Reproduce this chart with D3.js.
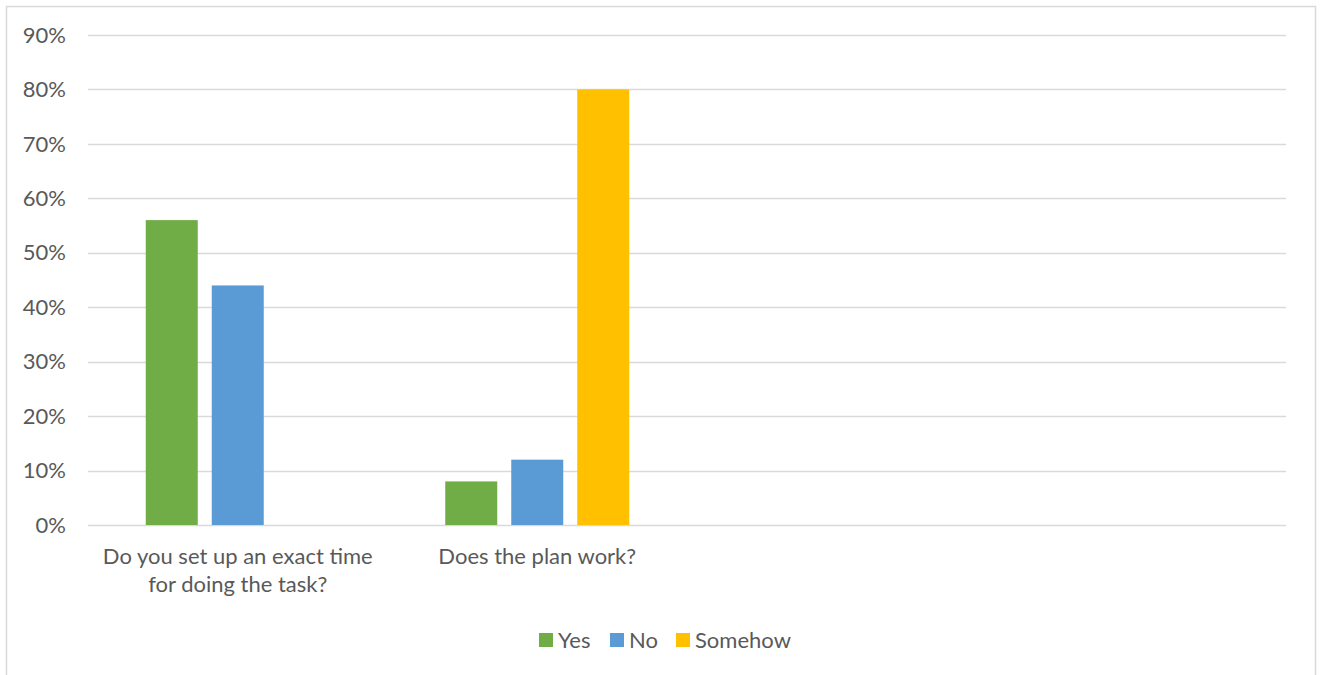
<!DOCTYPE html>
<html><head><meta charset="utf-8">
<script src="https://cdn.jsdelivr.net/npm/d3@7"></script>
<style>body{margin:0;background:#fff}svg{display:block}text{font-family:Lato,"Open Sans",sans-serif;fill:#595959}</style>
</head><body><svg id="c" width="1320" height="675"></svg>
<script>
const categories = [["Do you set up an exact time","for doing the task?"],["Does the plan work?"],[""],[""]];
const seriesNames = ["Yes","No","Somehow"];
const seriesColors = ["#70ad47","#5b9bd5","#ffc000"];
const yesValues = [0.56,0.08,null,null];
const noValues = [0.44,0.12,null,null];
const somehowValues = [0,0.80,null,null];
const yTicks = [0,0.1,0.2,0.3,0.4,0.5,0.6,0.7,0.8,0.9];
const seriesValues = [yesValues,noValues,somehowValues];

(function(){
const FS = 22;
const svg = d3.select("#c");
svg.append("rect").attr("x",6.5).attr("y",6.5).attr("width",1309).attr("height",700)
  .attr("fill","#fff").attr("stroke","#d9d9d9").attr("stroke-width",1.5);

const pL=88,pR=1286,pT=35,pB=525;
const x = d3.scaleBand().domain(d3.range(categories.length)).range([pL,pR]);
const y = d3.scaleLinear().domain([0,0.9]).range([pB,pT]);
const barW = 52, gap = 14;
const groupW = 3*barW+2*gap;
const inner = d3.scaleBand().domain(d3.range(seriesNames.length)).range([0, groupW]).paddingInner(gap/(barW+gap));

svg.append("g").selectAll("line").data(yTicks).join("line")
  .attr("x1",pL).attr("x2",pR).attr("y1",d=>Math.round(y(d))+0.5).attr("y2",d=>Math.round(y(d))+0.5)
  .attr("stroke","#d9d9d9").attr("stroke-width",1.5);

svg.append("g").selectAll("text").data(yTicks).join("text")
  .attr("x",66).attr("y",d=>y(d)).attr("dy","0.35em").attr("text-anchor","end")
  .attr("font-size",FS).text(d=>d3.format(".0%")(d));

seriesValues.forEach((vals,si)=>{
  svg.append("g").selectAll("rect").data(vals.map((v,i)=>({v,i})).filter(d=>d.v)).join("rect")
    .attr("x",d=>x(d.i)+x.bandwidth()/2-groupW/2+inner(si))
    .attr("width",inner.bandwidth())
    .attr("y",d=>y(d.v)).attr("height",d=>y(0)-y(d.v))
    .attr("fill",seriesColors[si]);
});

const lab = svg.append("g");
categories.forEach((lines,i)=>{
  const t = lab.append("text").attr("text-anchor","middle").attr("font-size",FS)
    .attr("x",x(i)+x.bandwidth()/2).attr("y",564);
  lines.forEach((l,j)=>t.append("tspan").attr("x",x(i)+x.bandwidth()/2).attr("dy",j?28:0).text(l));
});

const legendX=[539,610,676];
const lg = svg.append("g");
seriesNames.forEach((n,i)=>{
  lg.append("rect").attr("x",legendX[i]).attr("y",633).attr("width",14).attr("height",14).attr("fill",seriesColors[i]);
  lg.append("text").attr("x",legendX[i]+19).attr("y",640).attr("dy","0.35em").attr("font-size",FS).text(n);
});
})();
</script></body></html>
